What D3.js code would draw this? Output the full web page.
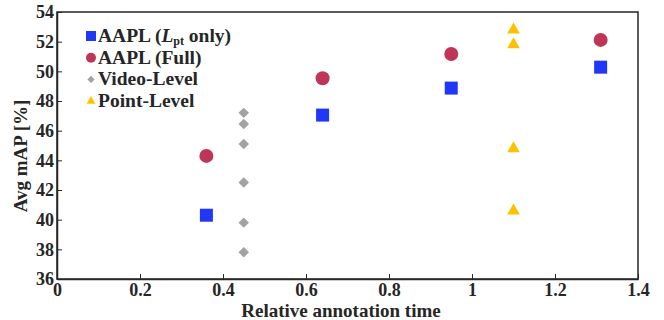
<!DOCTYPE html>
<html>
<head>
<meta charset="utf-8">
<script src="https://cdn.jsdelivr.net/npm/d3@7"></script>
<style>
  body { margin: 0; background: #fff; }
  text { font-family: "Liberation Serif", "DejaVu Serif", serif; font-weight: bold; fill: #262626; }
</style>
</head>
<body>
<div id="chart"></div>
<script>
// data
const aaplPtX = [0.36, 0.64, 0.95, 1.31];
const aaplPtY = [40.3, 47.05, 48.87, 50.28];
const aaplFullX = [0.36, 0.64, 0.95, 1.31];
const aaplFullY = [44.3, 49.53, 51.17, 52.12];
const videoX = [0.45, 0.45, 0.45, 0.45, 0.45, 0.45];
const videoY = [47.2, 46.45, 45.1, 42.5, 39.8, 37.8];
const pointX = [1.1, 1.1, 1.1, 1.1];
const pointY = [52.8, 51.8, 44.8, 40.6];
const xTicks = [0, 0.2, 0.4, 0.6, 0.8, 1, 1.2, 1.4];
const yTicks = [36, 38, 40, 42, 44, 46, 48, 50, 52, 54];

const W = 664, H = 320;
const margin = { top: 12, right: 26, bottom: 41, left: 57 };
const width = W - margin.left - margin.right;
const height = H - margin.top - margin.bottom;

const svg = d3.select("#chart").append("svg")
  .attr("width", W).attr("height", H);
const g = svg.append("g")
  .attr("transform", "translate(" + margin.left + "," + margin.top + ")");

const x = d3.scaleLinear().domain([0, 1.4]).range([0, width]);
const y = d3.scaleLinear().domain([36, 54]).range([height, 0]);

// box
g.append("rect")
  .attr("width", width).attr("height", height)
  .attr("fill", "none").attr("stroke", "#262626").attr("stroke-width", 1.5);

// axes, ticks pointing inward
const xAxis = g.append("g")
  .attr("transform", "translate(0," + height + ")")
  .call(d3.axisBottom(x).tickValues(xTicks).tickSizeInner(-5).tickSizeOuter(0)
    .tickFormat(d => d3.format("~g")(d)));
const yAxis = g.append("g")
  .call(d3.axisLeft(y).tickValues(yTicks).tickSizeInner(-5).tickSizeOuter(0));

[xAxis, yAxis].forEach(a => {
  a.select(".domain").attr("stroke", "#262626").attr("stroke-width", 1.5);
  a.selectAll(".tick line").attr("stroke", "#262626");
  a.selectAll(".tick text").style("font-size", "18px").attr("fill", "#262626")
    .style("font-family", "Liberation Serif, serif").style("font-weight", "bold");
});
xAxis.selectAll(".tick text").attr("dy", "0.85em").attr("y", 2);
yAxis.selectAll(".tick text").attr("x", -3);

// axis labels
svg.append("text")
  .attr("x", 341).attr("y", 317)
  .attr("text-anchor", "middle").style("font-size", "19px")
  .text("Relative annotation time");
svg.append("text")
  .attr("transform", "translate(27,156) rotate(-90)")
  .attr("text-anchor", "middle").style("font-size", "19px")
  .text("Avg mAP [%]");

const blue = "#2038f5", red = "#bf3558", gray = "#a2a2a2", yellow = "#ffc000";

const zip = (xs, ys) => xs.map((v, i) => ({ x: v, y: ys[i] }));

g.selectAll(".vid").data(zip(videoX, videoY)).enter().append("path")
  .attr("d", d3.symbol().type(d3.symbolDiamond2).size(70))
  .attr("transform", d => "translate(" + x(d.x) + "," + y(d.y) + ")")
  .attr("fill", gray);

g.selectAll(".pl").data(zip(pointX, pointY)).enter().append("path")
  .attr("d", d3.symbol().type(d3.symbolTriangle).size(70))
  .attr("transform", d => "translate(" + x(d.x) + "," + y(d.y) + ")")
  .attr("fill", yellow);

g.selectAll(".full").data(zip(aaplFullX, aaplFullY)).enter().append("circle")
  .attr("cx", d => x(d.x)).attr("cy", d => y(d.y)).attr("r", 7)
  .attr("fill", red);

g.selectAll(".pt").data(zip(aaplPtX, aaplPtY)).enter().append("rect")
  .attr("x", d => x(d.x) - 6.5).attr("y", d => y(d.y) - 6.5)
  .attr("width", 13).attr("height", 13)
  .attr("fill", blue);

// legend
const legend = svg.append("g").attr("transform", "translate(91,36)");
const rowH = 21.7;
legend.append("rect").attr("x", -5).attr("y", -5).attr("width", 10).attr("height", 10).attr("fill", blue);
legend.append("circle").attr("cx", 0).attr("cy", rowH).attr("r", 5).attr("fill", red);
legend.append("path").attr("d", d3.symbol().type(d3.symbolDiamond2).size(34))
  .attr("transform", "translate(0," + rowH * 2 + ")").attr("fill", gray);
legend.append("path").attr("d", d3.symbol().type(d3.symbolTriangle).size(34))
  .attr("transform", "translate(0," + rowH * 3 + ")").attr("fill", yellow);

const fs = "19.5px";
const t0 = legend.append("text").attr("x", 7).attr("y", 6).style("font-size", fs);
t0.append("tspan").text("AAPL (");
t0.append("tspan").style("font-style", "italic").text("L");
t0.append("tspan").attr("dy", 3).style("font-size", "12px").text("pt");
t0.append("tspan").attr("dy", -3).text(" only)");
legend.append("text").attr("x", 7).attr("y", rowH + 6).style("font-size", fs).text("AAPL (Full)");
legend.append("text").attr("x", 7).attr("y", rowH * 2 + 6).style("font-size", fs).text("Video-Level");
legend.append("text").attr("x", 7).attr("y", rowH * 3 + 6).style("font-size", fs).text("Point-Level");
</script>
</body>
</html>
